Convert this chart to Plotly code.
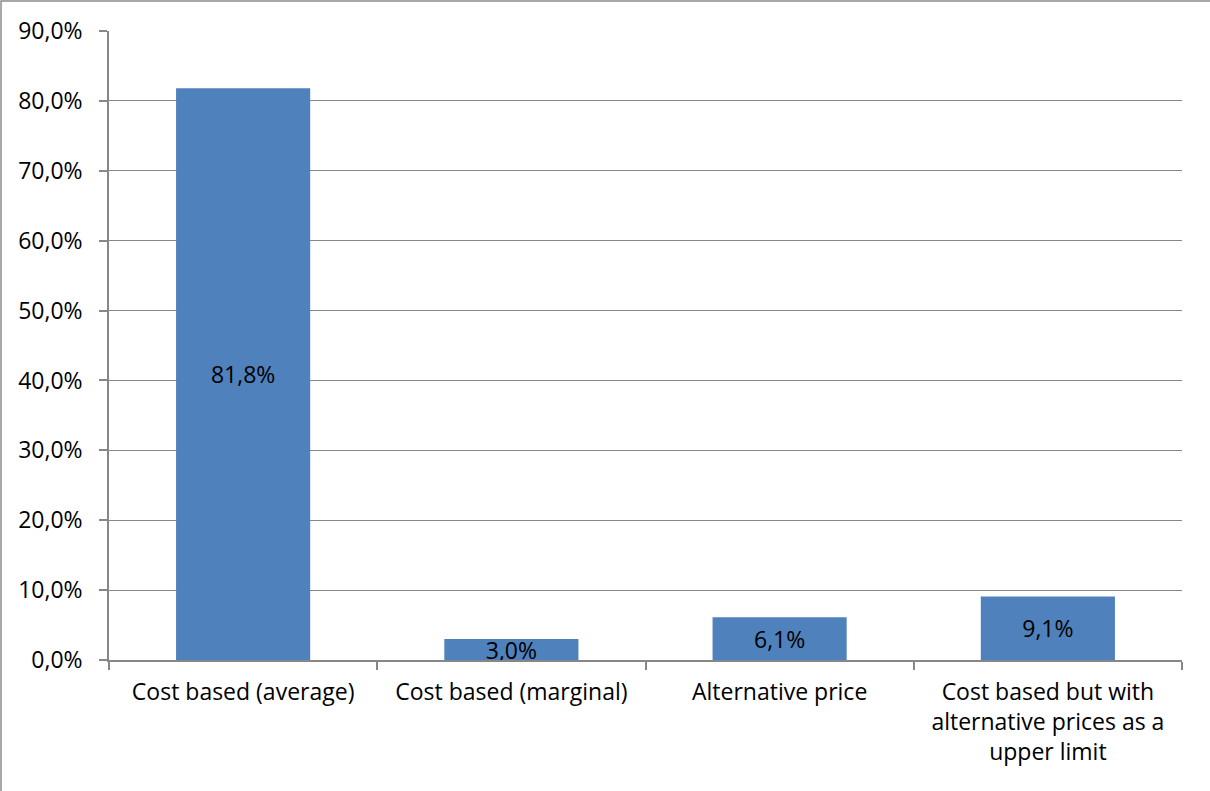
import plotly.graph_objects as go

categories = ["Cost based (average)", "Cost based (marginal)", "Alternative price",
              "Cost based but with<br>alternative prices as a<br>upper limit"]
values = [0.818, 0.030, 0.061, 0.091]
y_ticks = [0.0, 0.1, 0.2, 0.3, 0.4, 0.5, 0.6, 0.7, 0.8, 0.9]

FONT = "Open Sans"
GRAY = "#878787"
FS = 23

fig = go.Figure(go.Bar(
    x=categories, y=values,
    marker=dict(color="#4F81BD", line=dict(color="#4F81BD", width=0)),
    texttemplate="%{y:.1%}", textposition="inside", insidetextanchor="middle",
    textfont=dict(family=FONT, size=FS, color="black"),
    constraintext="none",
    hoverinfo="skip",
))

W, H = 1210, 791
ml, mr, mt, mb = 109, 28, 31, 131
pw, ph = W - ml - mr, H - mt - mb

fig.update_layout(
    width=W, height=H,
    margin=dict(l=ml, r=mr, t=mt, b=mb, pad=0),
    paper_bgcolor="white", plot_bgcolor="white",
    separators=",.",
    bargap=0.5,
    showlegend=False,
    uniformtext=dict(minsize=FS, mode="show"),
    font=dict(family=FONT, size=FS, color="black"),
    xaxis=dict(
        showgrid=False, showline=True, linecolor=GRAY, linewidth=1.5,
        ticks="outside", tickson="boundaries", ticklen=8, tickcolor=GRAY, tickwidth=1.5,
        tickfont=dict(family=FONT, size=FS, color="black"),
        tickangle=0, ticklabelstandoff=11,
    ),
    yaxis=dict(
        range=[0, 0.9], tickvals=y_ticks, tickformat=".1%",
        showgrid=True, gridcolor=GRAY, gridwidth=1.3,
        showline=True, linecolor=GRAY, linewidth=1.5,
        ticks="outside", ticklen=8, tickcolor=GRAY, tickwidth=1.5,
        tickfont=dict(family=FONT, size=FS, color="black"),
        zeroline=False, ticklabelstandoff=12,
    ),
    shapes=[dict(
        type="rect", xref="paper", yref="paper",
        x0=(1 - ml) / pw, x1=1.2, y0=-0.5, y1=(H - mb - 1) / ph,
        line=dict(color="#8c8c8c", width=1.5), fillcolor="rgba(0,0,0,0)", layer="below",
    )],
)

fig.write_html("out.html")
